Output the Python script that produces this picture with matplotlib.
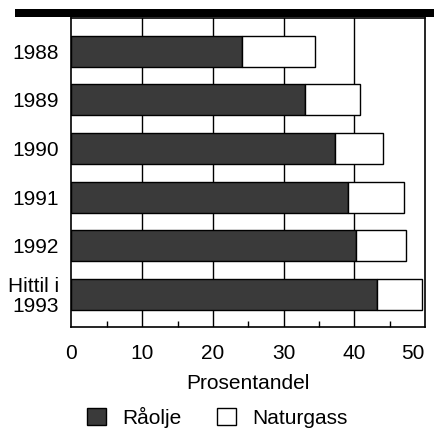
import matplotlib
matplotlib.use("Agg")
import matplotlib.pyplot as plt
from matplotlib.patches import Rectangle

plt.rcParams['font.family'] = ['Liberation Sans Narrow', 'Liberation Sans', 'DejaVu Sans']

categories = ["1988", "1989", "1990", "1991", "1992", "Hittil i\n1993"]
raolje = [24.1, 33.0, 37.2, 39.1, 40.3, 43.2]
naturgass = [10.4, 7.8, 6.9, 7.9, 7.0, 6.4]
xticks = [0, 10, 20, 30, 40, 50]

W, H = 435, 428
fig = plt.figure(figsize=(W/100, H/100), dpi=100)
ax = fig.add_axes([71.5/W, 1 - 327/H, (425-71.5)/W, (327-18)/H])

y = list(range(len(categories)))
ax.barh(y, raolje, height=0.64, color='#3a3a3a', edgecolor='black', linewidth=1.0, label='Råolje', zorder=3)
ax.barh(y, naturgass, left=raolje, height=0.64, color='white', edgecolor='black', linewidth=1.0, label='Naturgass', zorder=3)

ax.set_xlim(0, 50)
ax.set_ylim(5.67, -0.68)
ax.set_yticks(y)
ax.set_yticklabels(categories, fontsize=15, linespacing=1.05)
ax.tick_params(axis='y', length=0, pad=9)
ax.set_xticks(xticks)
ax.set_xticklabels([str(v) for v in xticks], fontsize=15)
ax.set_xticks([5, 15, 25, 35, 45], minor=True)
ax.tick_params(axis='x', which='major', direction='in', length=0, pad=12)
ax.tick_params(axis='x', which='minor', direction='in', length=4, width=1)
for v in xticks[1:-1]:
    ax.axvline(v, color='black', linewidth=1.0, zorder=1)
ax.xaxis.get_majorticklabels()[-1].set_horizontalalignment('right')
for s in ax.spines.values():
    s.set_linewidth(1.2)
ax.set_xlabel("Prosentandel", fontsize=15, labelpad=8)

# top black band
fig.patches.append(Rectangle((15/W, 1 - 17/H), (W-15)/W, 8/H, transform=fig.transFigure,
                             facecolor='black', edgecolor='none'))

fig.legend(loc='center', bbox_to_anchor=(0.5, 1 - 417/H), ncol=2, frameon=False,
           fontsize=15, handlelength=0.9, handleheight=0.9, columnspacing=1.7, handletextpad=0.8)

fig.savefig("out.png", dpi=100)
